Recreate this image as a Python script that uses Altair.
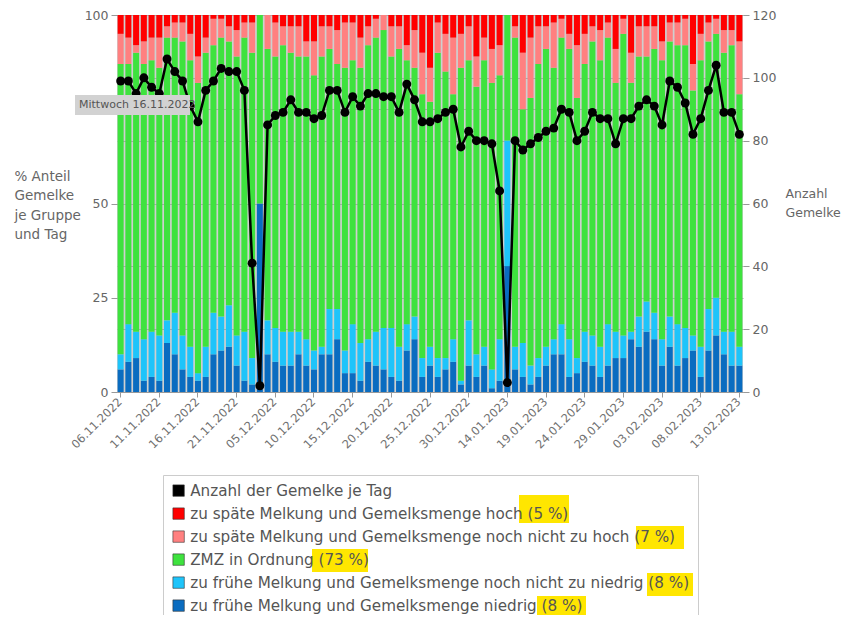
import altair as alt
import pandas as pd

# ---- categories (days with data; gaps 26.11.-04.12. and 04.01.-13.01. are skipped) ----
tage = (
    [d.strftime("%d.%m.%Y") for d in pd.date_range("2022-11-06", "2022-11-25")]
    + [d.strftime("%d.%m.%Y") for d in pd.date_range("2022-12-05", "2023-01-03")]
    + [d.strftime("%d.%m.%Y") for d in pd.date_range("2023-01-14", "2023-02-13")]
)

# ---- series (percent of milkings per group and day) ----
rot = [5, 6, 8, 7, 6, 6, 3, 2, 2, 5, 11, 6, 1, 1, 3, 4, 2, 2, 0, 0,
       2, 3, 3, 3, 7, 7, 3, 3, 4, 2, 2, 6, 3, 1, 0, 3, 3, 8, 4, 10,
       14, 2, 5, 6, 5, 3, 11, 6, 9, 8, 0, 3, 10, 6, 3, 3, 2, 1, 5, 8,
       5, 3, 4, 2, 9, 1, 10, 3, 3, 3, 7, 2, 2, 1, 13, 5, 2, 1, 4, 4, 7]
rosa = [8, 7, 2, 6, 6, 8, 3, 4, 5, 7, 7, 4, 7, 5, 4, 7, 4, 8, 0, 9,
        9, 5, 7, 8, 4, 9, 8, 6, 9, 12, 10, 8, 5, 5, 4, 8, 6, 4, 10, 11,
        9, 8, 10, 15, 9, 9, 8, 6, 9, 8, 0, 3, 15, 16, 10, 6, 12, 5, 4, 14,
        8, 4, 8, 4, 9, 4, 8, 8, 8, 6, 5, 5, 6, 7, 7, 7, 5, 4, 6, 4, 14]
gruen = [77, 69, 74, 73, 72, 71, 75, 73, 78, 76, 77, 78, 71, 74, 70, 74, 78, 81, 50, 72,
         72, 76, 74, 73, 75, 73, 77, 69, 65, 75, 70, 73, 78, 78, 79, 72, 79, 70, 66, 70,
         65, 81, 76, 65, 83, 69, 71, 76, 76, 70, 33.3, 82, 62, 71, 78, 79, 72, 76, 77, 69,
         71, 78, 76, 76, 66, 80, 66, 69, 65, 70, 74, 73, 74, 75, 65, 76, 71, 70, 74, 76, 67]
hellblau = [4, 10, 7, 11, 12, 12, 6, 11, 9, 8, 2, 8, 11, 9, 11, 8, 13, 7, 0, 9,
            9, 9, 9, 6, 7, 5, 2, 12, 8, 6, 13, 10, 6, 9, 11, 13, 9, 7, 6, 5,
            5, 5, 3, 6, 1, 12, 6, 5, 5, 11, 33.3, 6, 9, 5, 5, 5, 4, 8, 10, 4,
            8, 8, 8, 11, 7, 6, 2, 8, 8, 7, 7, 8, 11, 8, 4, 8, 11, 10, 6, 9, 5]
dunkelblau = [6, 8, 9, 3, 4, 3, 13, 10, 6, 4, 3, 4, 10, 11, 12, 7, 3, 2, 50, 10,
              8, 7, 7, 10, 7, 6, 10, 10, 14, 5, 5, 3, 8, 7, 6, 4, 3, 11, 14, 4,
              7, 4, 6, 8, 2, 7, 4, 7, 1, 3, 33.4, 6, 4, 2, 4, 7, 10, 10, 4, 5,
              8, 7, 4, 7, 9, 9, 14, 12, 16, 14, 7, 12, 7, 9, 11, 4, 11, 15, 10, 7, 7]

# ---- number of milkings per day ----
anzahl = [99, 99, 95, 100, 97, 95, 106, 102, 99, 91, 86, 96, 99, 103, 102, 102, 96, 41, 2, 85,
          88, 89, 93, 89, 89, 87, 88, 96, 96, 89, 94, 91, 95, 95, 94, 94, 89, 98, 93, 86,
          86, 87, 89, 90, 78, 83, 80, 80, 79, 64, 3, 80, 77, 79, 81, 83, 84, 90, 89, 80,
          83, 89, 87, 87, 79, 87, 87, 91, 93, 91, 85, 99, 97, 92, 82, 87, 96, 104, 89, 89, 82]

gruppen = [
    "Anzahl der Gemelke je Tag",
    "zu späte Melkung und Gemelksmenge hoch (5 %)",
    "zu späte Melkung und Gemelksmenge noch nicht zu hoch (7 %)",
    "ZMZ in Ordnung (73 %)",
    "zu frühe Melkung und Gemelksmenge noch nicht zu niedrig (8 %)",
    "zu frühe Melkung und Gemelksmenge niedrig (8 %)",
]
farben = ["#000000", "#ff0000", "#ff8080", "#3ee23e", "#1ec4fa", "#0a6cc0"]

serien = [
    (gruppen[5], dunkelblau, 0),
    (gruppen[4], hellblau, 1),
    (gruppen[3], gruen, 2),
    (gruppen[2], rosa, 3),
    (gruppen[1], rot, 4),
]
rows = []
for name, vals, ordn in serien:
    for t, v in zip(tage, vals):
        rows.append({"tag": t, "gruppe": name, "wert": v, "ord": ordn})
df_bars = pd.DataFrame(rows)
df_line = pd.DataFrame({"tag": tage, "anzahl": anzahl})

FONT = "DejaVu Sans"
GRAY = "#666666"

x_enc = alt.X(
    "tag:N",
    sort=tage,
    scale=alt.Scale(paddingInner=0.22, paddingOuter=0.08),
    axis=alt.Axis(
        values=tage[::5], title=None, labelAngle=-45, labelAlign="right",
        labelBaseline="middle", labelFontSize=11.5, labelColor="#707070", labelFont=FONT,
        labelPadding=3, tickSize=5, tickColor="#999999", domainColor="#999999",
        grid=False, labelOverlap=False,
    ),
)

bars = alt.Chart(df_bars).mark_bar().encode(
    x=x_enc,
    y=alt.Y(
        "wert:Q", stack="normalize",
        scale=alt.Scale(domain=[0, 1], nice=False),
        axis=alt.Axis(
            values=[0, 0.25, 0.5, 0.75, 1],
            # the 75 label is hidden under the tooltip box in the reference
            labelExpr="datum.value == 0.75 ? '' : format(datum.value*100, 'd')",
            title=["% Anteil", "Gemelke", "je Gruppe", "und Tag"],
            titleAngle=0, titleAlign="left", titleBaseline="top",
            titleX=-103, titleY=154, titleFontSize=13.5, titleFontWeight="normal",
            titleColor=GRAY, titleFont=FONT, titleLineHeight=19.5,
            labelFontSize=12.5, labelColor=GRAY, labelFont=FONT, labelPadding=3,
            domain=False, tickSize=6, tickColor="#999999",
            grid=True, gridColor="#a8a8a8",
        ),
    ),
    color=alt.Color(
        "gruppe:N",
        scale=alt.Scale(domain=gruppen, range=farben),
        legend=alt.Legend(
            orient="none", legendX=46, legendY=460, title=None,
            symbolType="square", symbolSize=130, symbolStrokeWidth=0.6,
            symbolStrokeColor="#333333",
            labelFontSize=15.2, labelFont=FONT, labelColor="#555555", labelLimit=1000,
            rowPadding=7, padding=8, strokeColor="#cccccc", zindex=1,
        ),
    ),
    order=alt.Order("ord:Q", sort="ascending"),
)

y_right = alt.Y(
    "anzahl:Q",
    scale=alt.Scale(domain=[0, 120], nice=False),
    axis=alt.Axis(
        orient="right", values=list(range(0, 121, 20)),
        title=["Anzahl", "Gemelke"], titleAngle=0, titleAlign="left",
        titleBaseline="top", titleX=42, titleY=172, titleFontSize=12.5,
        titleFontWeight="normal", titleColor=GRAY, titleFont=FONT, titleLineHeight=19.5,
        labelFontSize=12.5, labelColor=GRAY, labelFont=FONT, labelPadding=3,
        domain=False, tickSize=6, tickColor="#999999",
        grid=True, gridColor="#a8a8a8",
    ),
)

line = alt.Chart(df_line).mark_line(color="black", strokeWidth=2.5).encode(
    x=alt.X("tag:N", sort=tage), y=y_right
)
points = alt.Chart(df_line).mark_circle(color="black", size=80, opacity=1).encode(
    x=alt.X("tag:N", sort=tage), y=alt.Y("anzahl:Q")
)
count_layer = alt.layer(line, points)

# tooltip box seen in the reference
tip_df = pd.DataFrame({"t": ["Mittwoch 16.11.2022"]})
tip_box = alt.Chart(tip_df).mark_rect(color="#d2d2d2").encode(
    x=alt.value(-42), x2=alt.value(73), y=alt.value(80), y2=alt.value(100)
)
tip_text = alt.Chart(tip_df).mark_text(
    align="left", baseline="middle", fontSize=11, font=FONT, color="#555555"
).encode(x=alt.value(-38), y=alt.value(90), text="t:N")

# yellow highlighter marks over the legend percentages (pixel boxes)
hl_boxes = [(402, 452, 480, 508), (519, 567, 511, 534), (195, 251, 534, 557),
            (530, 576, 558, 581), (420, 469, 581, 603)]
hl_df = pd.DataFrame({"h": [1]})
highlights = [
    alt.Chart(hl_df).mark_rect(color="#ffe600").encode(
        x=alt.value(a), x2=alt.value(b), y=alt.value(c), y2=alt.value(d)
    )
    for a, b, c, d in hl_boxes
]

chart = (
    alt.layer(*highlights, bars, count_layer, tip_box, tip_text)
    .resolve_scale(y="independent")
    .properties(
        width=626, height=377,
        autosize=alt.AutoSizeParams(type="none"),
        padding={"left": 109, "top": 7, "right": 99, "bottom": 223},
    )
    .configure_view(fill="#cfcfcf", stroke=None)
    .configure_axis(labelFont=FONT, titleFont=FONT)
)

chart.save("out.html", embed_options={"renderer": "svg", "actions": False})
